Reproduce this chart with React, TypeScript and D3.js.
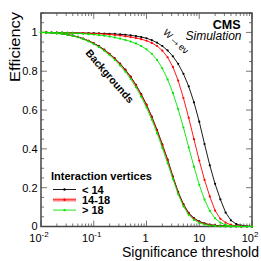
import { useEffect, useRef } from "react"
import * as d3 from "d3"

// log10 of the significance threshold at each measured point
const logThresholds = [
    -2.0, -1.9, -1.8, -1.7, -1.6, -1.5, -1.4, -1.3, -1.2, -1.1,
    -1.0, -0.9, -0.8, -0.7, -0.6, -0.5, -0.4, -0.3, -0.2, -0.1,
    0.0, 0.1, 0.2, 0.3, 0.4, 0.5, 0.6, 0.7, 0.8, 0.9,
    1.0, 1.1, 1.2, 1.3, 1.4, 1.5, 1.6, 1.7, 1.8, 1.9, 2.0,
]

// W -> e nu signal efficiency
const sigLow = [
    1.000, 1.000, 0.999, 0.999, 0.999, 0.998, 0.998, 0.997, 0.997, 0.996,
    0.996, 0.995, 0.994, 0.993, 0.992, 0.990, 0.988, 0.985, 0.981, 0.976,
    0.970, 0.960, 0.947, 0.930, 0.907, 0.877, 0.838, 0.787, 0.722, 0.640,
    0.540, 0.425, 0.315, 0.220, 0.140, 0.072, 0.032, 0.013, 0.005, 0.002, 0.000,
]
const sigMid = [
    1.000, 1.000, 0.999, 0.999, 0.998, 0.998, 0.997, 0.997, 0.996, 0.995,
    0.994, 0.993, 0.991, 0.989, 0.987, 0.984, 0.980, 0.976, 0.971, 0.965,
    0.957, 0.946, 0.930, 0.906, 0.872, 0.822, 0.752, 0.662, 0.560, 0.450,
    0.340, 0.240, 0.155, 0.082, 0.040, 0.020, 0.008, 0.003, 0.001, 0.000, 0.000,
]
const sigHigh = [
    1.000, 0.999, 0.999, 0.998, 0.998, 0.997, 0.996, 0.995, 0.993, 0.991,
    0.989, 0.986, 0.983, 0.979, 0.974, 0.968, 0.961, 0.953, 0.943, 0.930,
    0.913, 0.890, 0.858, 0.815, 0.758, 0.688, 0.605, 0.510, 0.408, 0.308,
    0.215, 0.138, 0.080, 0.042, 0.020, 0.008, 0.003, 0.001, 0.000, 0.000, 0.000,
]

// background efficiency
const bkgLow = [
    1.000, 0.999, 0.998, 0.996, 0.993, 0.989, 0.984, 0.977, 0.968, 0.957,
    0.944, 0.929, 0.911, 0.890, 0.866, 0.839, 0.808, 0.772, 0.730, 0.682,
    0.628, 0.566, 0.498, 0.423, 0.345, 0.258, 0.178, 0.115, 0.070, 0.043,
    0.026, 0.016, 0.010, 0.006, 0.004, 0.002, 0.001, 0.001, 0.000, 0.000, 0.000,
]
const bkgMid = [
    1.000, 0.999, 0.998, 0.996, 0.993, 0.989, 0.983, 0.976, 0.967, 0.956,
    0.943, 0.927, 0.909, 0.888, 0.864, 0.836, 0.805, 0.769, 0.727, 0.679,
    0.625, 0.563, 0.495, 0.420, 0.342, 0.255, 0.175, 0.112, 0.067, 0.040,
    0.024, 0.014, 0.008, 0.004, 0.002, 0.001, 0.001, 0.000, 0.000, 0.000, 0.000,
]
const bkgHigh = [
    1.000, 0.999, 0.997, 0.995, 0.992, 0.988, 0.982, 0.975, 0.965, 0.954,
    0.940, 0.924, 0.905, 0.883, 0.858, 0.829, 0.797, 0.760, 0.717, 0.668,
    0.613, 0.550, 0.481, 0.405, 0.326, 0.245, 0.166, 0.104, 0.060, 0.034,
    0.019, 0.010, 0.005, 0.003, 0.001, 0.001, 0.000, 0.000, 0.000, 0.000, 0.000,
]

const xTickExps = [-2, -1, 0, 1, 2]
const yTicks = [0, 0.2, 0.4, 0.6, 0.8, 1]
const legendTitle = "Interaction vertices"
const legendLabels = ["< 14", "14-18", "> 18"]
const colors = ["#000000", "#ff0000", "#00e600"]

const FONT = "'Liberation Sans', Arial, Helvetica, sans-serif"

export default function App() {
    const ref = useRef<SVGSVGElement>(null)

    useEffect(() => {
        const host = ref.current
        if (!host) return
        const svg = d3.select(host)
        svg.selectAll("*").remove()

        const x0 = 41, x1 = 252, yTop = 13, yBot = 226.5
        const x = d3.scaleLog().domain([0.01, 100]).range([x0, x1])
        const y = d3.scaleLinear().domain([0, 1.1]).range([yBot, yTop])

        svg.append("rect").attr("width", 261).attr("height", 261).attr("fill", "#fff")

        // ticks
        const ticks = svg.append("g").attr("stroke", "#777").attr("stroke-width", 1)
        const xMinor: number[] = []
        for (let k = -2; k < 2; k++) for (let m = 2; m <= 9; m++) xMinor.push(m * Math.pow(10, k))
        xMinor.forEach(v => {
            const px = x(v)
            ticks.append("line").attr("x1", px).attr("x2", px).attr("y1", yBot).attr("y2", yBot - 3)
            ticks.append("line").attr("x1", px).attr("x2", px).attr("y1", yTop).attr("y2", yTop + 3)
        })
        xTickExps.forEach(k => {
            const px = x(Math.pow(10, k))
            ticks.append("line").attr("x1", px).attr("x2", px).attr("y1", yBot).attr("y2", yBot - 6)
            ticks.append("line").attr("x1", px).attr("x2", px).attr("y1", yTop).attr("y2", yTop + 6)
        })
        d3.range(1, 23).forEach(i => {
            const v = i * 0.05
            const major = i % 4 === 0
            const py = y(v)
            const len = major ? 6 : 3
            ticks.append("line").attr("x1", x0).attr("x2", x0 + len).attr("y1", py).attr("y2", py)
            ticks.append("line").attr("x1", x1).attr("x2", x1 - len).attr("y1", py).attr("y2", py)
        })

        // frame
        svg.append("rect")
            .attr("x", x0).attr("y", yTop)
            .attr("width", x1 - x0).attr("height", yBot - yTop)
            .attr("fill", "none").attr("stroke", "#444").attr("stroke-width", 1.5)

        // tick labels
        const labels = svg.append("g").attr("font-family", FONT).attr("font-size", 11).attr("fill", "#000")
        yTicks.forEach(v => {
            labels.append("text")
                .attr("x", 37.5).attr("y", y(v)).attr("dy", "0.36em")
                .attr("text-anchor", "end")
                .text(String(v))
        })
        xTickExps.forEach(k => {
            const px = x(Math.pow(10, k))
            const t = labels.append("text")
                .attr("y", 241.5)
                .attr("text-anchor", "middle")
            if (k === 0) t.attr("x", px - 1).text("1")
            else if (k === 1) t.attr("x", px).text("10")
            else {
                t.attr("x", px - 2)
                t.append("tspan").text("10")
                t.append("tspan").attr("dy", -5).attr("font-size", 8).text(String(k))
            }
        })

        // axis titles
        svg.append("text")
            .attr("font-family", FONT).attr("font-size", 14)
            .attr("text-anchor", "end")
            .attr("transform", `translate(20,12) rotate(-90)`)
            .attr("textLength", 70).attr("lengthAdjust", "spacingAndGlyphs")
            .text("Efficiency")
        svg.append("text")
            .attr("font-family", FONT).attr("font-size", 14)
            .attr("text-anchor", "end")
            .attr("x", 259).attr("y", 257)
            .text("Significance threshold")

        // curves
        const line = d3.line<number>()
            .x((_, i) => x(Math.pow(10, logThresholds[i])))
            .y(d => y(d))
        const groups = [
            [bkgLow, sigLow],
            [bkgMid, sigMid],
            [bkgHigh, sigHigh],
        ]
        groups.forEach((series, gi) => {
            series.forEach(vals => {
                svg.append("path")
                    .attr("d", line(vals))
                    .attr("fill", "none")
                    .attr("stroke", colors[gi])
                    .attr("stroke-width", 0.9)
                svg.append("g")
                    .selectAll("circle")
                    .data(vals)
                    .join("circle")
                    .attr("cx", (_, i) => x(Math.pow(10, logThresholds[i])))
                    .attr("cy", d => y(d))
                    .attr("r", 1.1)
                    .attr("fill", colors[gi])
            })
        })

        // annotations
        svg.append("text")
            .attr("font-family", FONT).attr("font-size", 12.5).attr("font-weight", "bold")
            .attr("text-anchor", "end").attr("x", 240.5).attr("y", 28.5)
            .text("CMS")
        svg.append("text")
            .attr("font-family", FONT).attr("font-size", 12).attr("font-style", "italic")
            .attr("text-anchor", "end").attr("x", 241.5).attr("y", 39.5)
            .text("Simulation")
        const wlab = svg.append("text")
            .attr("font-family", FONT).attr("font-size", 9.5)
            .attr("text-anchor", "middle").attr("dominant-baseline", "central")
            .attr("transform", "translate(176.5,41) rotate(43)")
        wlab.append("tspan").text("W")
        wlab.append("tspan").attr("font-size", 12).text("\u2192")
        wlab.append("tspan").text("e\u03bd")
        svg.append("text")
            .attr("font-family", FONT).attr("font-size", 10.5).attr("font-weight", "bold")
            .attr("text-anchor", "middle").attr("dominant-baseline", "central")
            .attr("transform", "translate(110,76) rotate(49)")
            .text("Backgrounds")

        // legend
        const lg = svg.append("g").attr("font-family", FONT).attr("font-weight", "bold").attr("font-size", 11)
        lg.append("text").attr("x", 51).attr("y", 180).text(legendTitle)
        legendLabels.forEach((lab, i) => {
            const ly = 189.5 + i * 10.3
            if (i === 1) {
                lg.append("rect").attr("x", 53).attr("y", ly - 2).attr("width", 23).attr("height", 4)
                    .attr("fill", "#ffb3b3")
            }
            lg.append("line").attr("x1", 53).attr("x2", 76).attr("y1", ly).attr("y2", ly)
                .attr("stroke", colors[i]).attr("stroke-width", 0.9)
            lg.append("circle").attr("cx", 64.5).attr("cy", ly).attr("r", 1.2).attr("fill", colors[i])
            lg.append("text").attr("x", 82).attr("y", ly + 4).text(lab)
        })
    }, [])

    return (
        <svg
            ref={ref}
            width={261}
            height={261}
            style={{ position: "absolute", left: 0, top: 0 }}
        />
    )
}
